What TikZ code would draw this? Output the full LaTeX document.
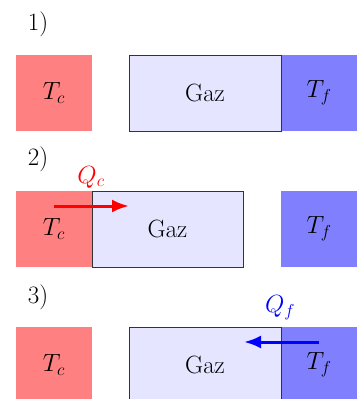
\documentclass[tikz,border=0pt]{standalone}
\usepackage{amsmath}
\usetikzlibrary{arrows.meta,positioning}

\begin{document}
\begin{tikzpicture}[
    >=Latex,
    x=1pt,
    y=1pt,
    font=\fontsize{25}{30}\selectfont,
    thermostat/.style={minimum width=76pt, minimum height=76pt, inner sep=0pt},
    chaud/.style={thermostat, fill=red!50},
    froid/.style={thermostat, fill=blue!50},
    gaz/.style={minimum width=152pt, minimum height=76pt, inner sep=0pt,
        fill=blue!10, draw=black!80, line width=0.8pt},
    flux/.style={->, line width=3pt, arrows={-Latex[length=17pt,width=13pt]}}
]

\useasboundingbox (0,0) rectangle (358,-399);

% Etape 1
\node (num1) at (38,-24) {1)};
\node[chaud] (chaud1) at (54,-93) {$T_c$};
\node[froid] (froid1) at (319,-93) {$T_f$};
\node[gaz] (gaz1) at (205,-93) {Gaz};

% Etape 2
\node (num2) at (38,-159) {2)};
\node[chaud] (chaud2) at (54,-229) {$T_c$};
\node[froid] (froid2) at (319,-229) {$T_f$};
\node[gaz, minimum width=151pt] (gaz2) at (167.5,-229) {Gaz};
\coordinate (qc1) at (54,-206);
\coordinate (qc2) at (129,-206);
\draw[flux, red] (qc1) -- (qc2);
\node[red] (qc) at (91,-177) {$Q_c$};

% Etape 3
\node (num3) at (38,-297) {3)};
\node[chaud] (chaud3) at (54,-365) {$T_c$};
\node[froid] (froid3) at (319,-365) {$T_f$};
\node[gaz] (gaz3) at (205,-365) {Gaz};
\coordinate (qf1) at (319,-342);
\coordinate (qf2) at (244,-342);
\draw[flux, blue] (qf1) -- (qf2);
\node[blue] (qf) at (280,-308) {$Q_f$};

\end{tikzpicture}
\end{document}
